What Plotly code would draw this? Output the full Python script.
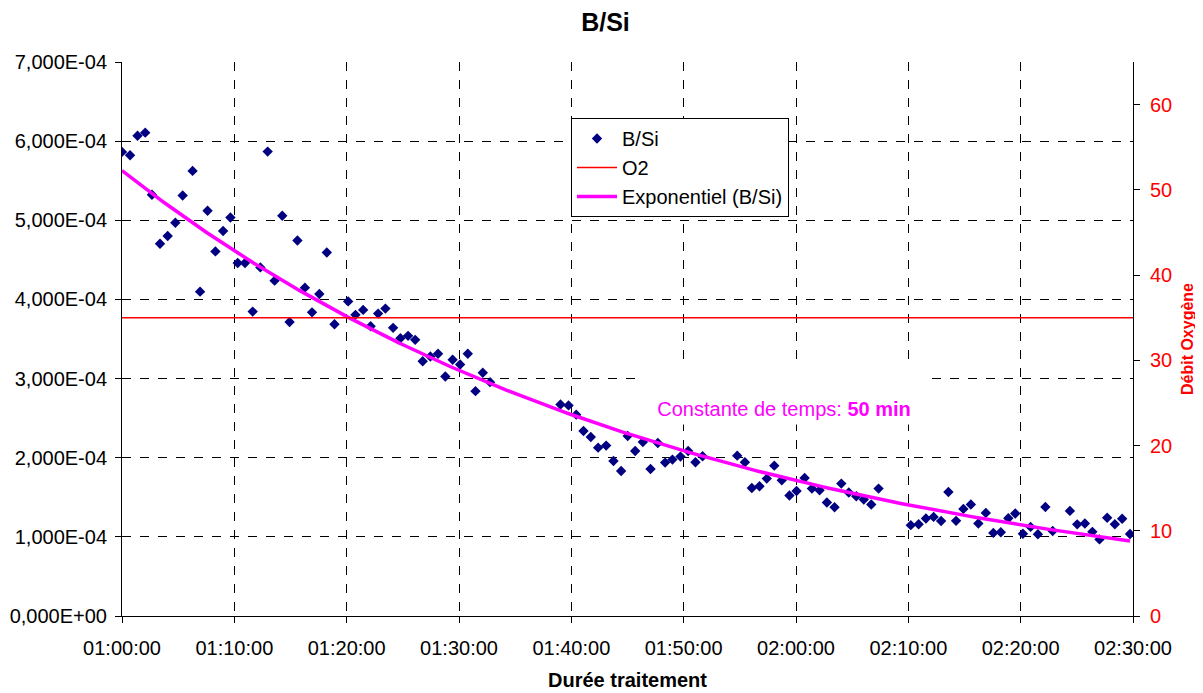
import numpy as np
import pandas as pd
import plotly.graph_objects as go

# ---- data ----
# elapsed seconds since 01:00:00
t_sec = [0, 43, 83, 124, 160, 203, 244, 285, 324,
         377, 417, 457, 499, 540, 579, 618, 657, 698, 739,
         778, 815, 856, 895, 937, 977, 1015, 1054, 1094, 1135,
         1208, 1247, 1288, 1328, 1368, 1407, 1448, 1487, 1528, 1566,
         1606, 1647, 1688, 1727, 1766, 1806, 1847, 1888, 1927, 1966,
         2342, 2385, 2426, 2465, 2504, 2543, 2586, 2625, 2666, 2701,
         2741, 2782, 2823, 2862, 2901, 2940, 2983, 3024, 3063, 3101,
         3286, 3327, 3364, 3405, 3444, 3484, 3524, 3565, 3603, 3646,
         3685, 3726, 3765, 3806, 3842, 3882, 3922, 3962, 4002, 4041,
         4213, 4255, 4294, 4335, 4375, 4414, 4455, 4494, 4534, 4574,
         4614, 4654, 4694, 4734, 4771, 4812, 4853, 4892, 4932, 4971,
         5063, 5102, 5143, 5183, 5221, 5262, 5303, 5342, 5384]

# B/Si ratio in units of 1E-04
bsi_e4 = [5.864, 5.822, 6.069, 6.107, 5.322, 4.704, 4.801, 4.968, 5.313,
          5.624, 4.098, 5.120, 4.607, 4.864, 5.035, 4.460, 4.460, 3.846, 4.405,
          5.868, 4.237, 5.057, 3.714, 4.745, 4.149, 3.837, 4.069, 4.593, 3.686,
          3.975, 3.805, 3.868, 3.661, 3.821, 3.884, 3.641, 3.509, 3.540, 3.489,
          3.219, 3.279, 3.313, 3.026, 3.237, 3.178, 3.313, 2.841, 3.073, 2.955,
          2.673, 2.661, 2.544, 2.337, 2.261, 2.127, 2.153, 1.958, 1.832, 2.274,
          2.085, 2.198, 1.857, 2.185, 1.938, 1.976, 2.014, 2.085, 1.942, 2.018,
          2.026, 1.942, 1.618, 1.639, 1.736, 1.900, 1.715, 1.523, 1.579, 1.744,
          1.610, 1.589, 1.434, 1.375, 1.673, 1.560, 1.513, 1.472, 1.409, 1.610,
          1.148, 1.160, 1.232, 1.252, 1.200, 1.567, 1.202, 1.353, 1.409, 1.169,
          1.303, 1.050, 1.059, 1.236, 1.295, 1.040, 1.126, 1.032, 1.378, 1.074,
          1.328, 1.158, 1.169, 1.063, 0.968, 1.242, 1.160, 1.229, 1.037]

o2_times = ["01:00:00", "02:30:00"]
o2_values = [35, 35]

x_ticks = ["01:00:00", "01:10:00", "01:20:00", "01:30:00", "01:40:00",
           "01:50:00", "02:00:00", "02:10:00", "02:20:00", "02:30:00"]
y_tick_vals = [0, 1e-4, 2e-4, 3e-4, 4e-4, 5e-4, 6e-4, 7e-4]
y_tick_text = ["0,000E+00", "1,000E-04", "2,000E-04", "3,000E-04",
               "4,000E-04", "5,000E-04", "6,000E-04", "7,000E-04"]
y2_ticks = [0, 10, 20, 30, 40, 50, 60]

# ---- build ----
DAY = "2000-01-01 "
base = pd.Timestamp(DAY + "01:00:00")
x = [base + pd.Timedelta(seconds=s) for s in t_sec]
bsi = np.array(bsi_e4) * 1e-4

# Excel-style exponential trendline (least squares on ln y)
b1, b0 = np.polyfit(np.array(t_sec, float), np.log(bsi), 1)
t_fit = np.linspace(min(t_sec), max(t_sec), 300)
y_fit = np.exp(b0 + b1 * t_fit)
x_fit = [base + pd.Timedelta(seconds=float(s)) for s in t_fit]

FONT = "Arial, 'Liberation Sans', sans-serif"

W, H = 1195, 685          # page body has an 8 px margin
ML, MR, MT, MB = 114, 70, 54, 77
PW, PH = W - ML - MR, H - MT - MB


def px_x(px):   # screen px -> paper x
    return (px - 8 - ML) / PW


def px_y(py):   # screen px -> paper y
    return (H - MB - (py - 8)) / PH


fig = go.Figure()
fig.add_trace(go.Scatter(
    x=x, y=bsi, mode="markers", name="B/Si",
    marker=dict(symbol="diamond", size=8, color="#000080"),
))
fig.add_trace(go.Scatter(
    x=[pd.Timestamp(DAY + t) for t in o2_times], y=o2_values, mode="lines",
    name="O2", yaxis="y2", line=dict(color="#FF0000", width=1.5),
))
fig.add_trace(go.Scatter(
    x=x_fit, y=y_fit, mode="lines", name="Exponentiel (B/Si)",
    line=dict(color="#FF00FF", width=3.5),
))

fig.update_layout(
    width=W, height=H,
    margin=dict(l=ML, r=MR, t=MT, b=MB, autoexpand=False),
    paper_bgcolor="white", plot_bgcolor="white",
    font=dict(family=FONT, size=20, color="black"),
    title=dict(text="<b>B/Si</b>", x=0.5, xref="container", xanchor="center",
               y=1 - 14 / H, yref="container", yanchor="middle",
               font=dict(size=25, family=FONT, color="black")),
    xaxis=dict(
        type="date", automargin=False,
        range=[pd.Timestamp(DAY + x_ticks[0]), pd.Timestamp(DAY + x_ticks[-1])],
        tickvals=[pd.Timestamp(DAY + t) for t in x_ticks],
        ticktext=x_ticks,
        showline=True, linecolor="black", linewidth=1,
        ticks="outside", ticklen=6, tickcolor="black",
        showgrid=True, gridcolor="black", griddash="dash", gridwidth=1,
        zeroline=False,
        ticklabelstandoff=8,
        title=dict(text="<b>Durée traitement</b>", standoff=14,
                   font=dict(size=20, family=FONT)),
    ),
    yaxis=dict(
        automargin=False,
        range=[0, 7e-4], tickvals=y_tick_vals, ticktext=y_tick_text,
        showline=True, linecolor="black", linewidth=1,
        ticks="outside", ticklen=6, tickcolor="black",
        showgrid=True, gridcolor="black", griddash="dash", gridwidth=1,
        zeroline=False, ticklabelstandoff=4,
    ),
    yaxis2=dict(
        automargin=False,
        range=[0, 65], tickvals=y2_ticks, overlaying="y", side="right",
        showline=True, linecolor="black", linewidth=1,
        ticks="outside", ticklen=6, tickcolor="black",
        showgrid=False, zeroline=False, ticklabelstandoff=6,
        tickfont=dict(color="#FF0000", size=20),
        title=dict(text="<b>Débit Oxygène</b>", standoff=10,
                   font=dict(color="#FF0000", size=16, family=FONT)),
    ),
    legend=dict(
        x=px_x(571), y=px_y(118), xanchor="left", yanchor="top",
        bgcolor="white", bordercolor="black", borderwidth=1,
        font=dict(size=20, family=FONT), traceorder="normal",
        tracegroupgap=0, itemwidth=40,
    ),
    showlegend=True,
)

fig.add_annotation(
    text="Constante de temps: <b>50 min</b>",
    xref="paper", yref="paper",
    x=px_x(784), y=px_y(395),
    xanchor="center", yanchor="middle",
    width=272, height=50, valign="bottom", borderpad=4,
    bgcolor="white", showarrow=False,
    font=dict(size=20, color="#FF00FF", family=FONT),
)

fig.write_html("out.html")
